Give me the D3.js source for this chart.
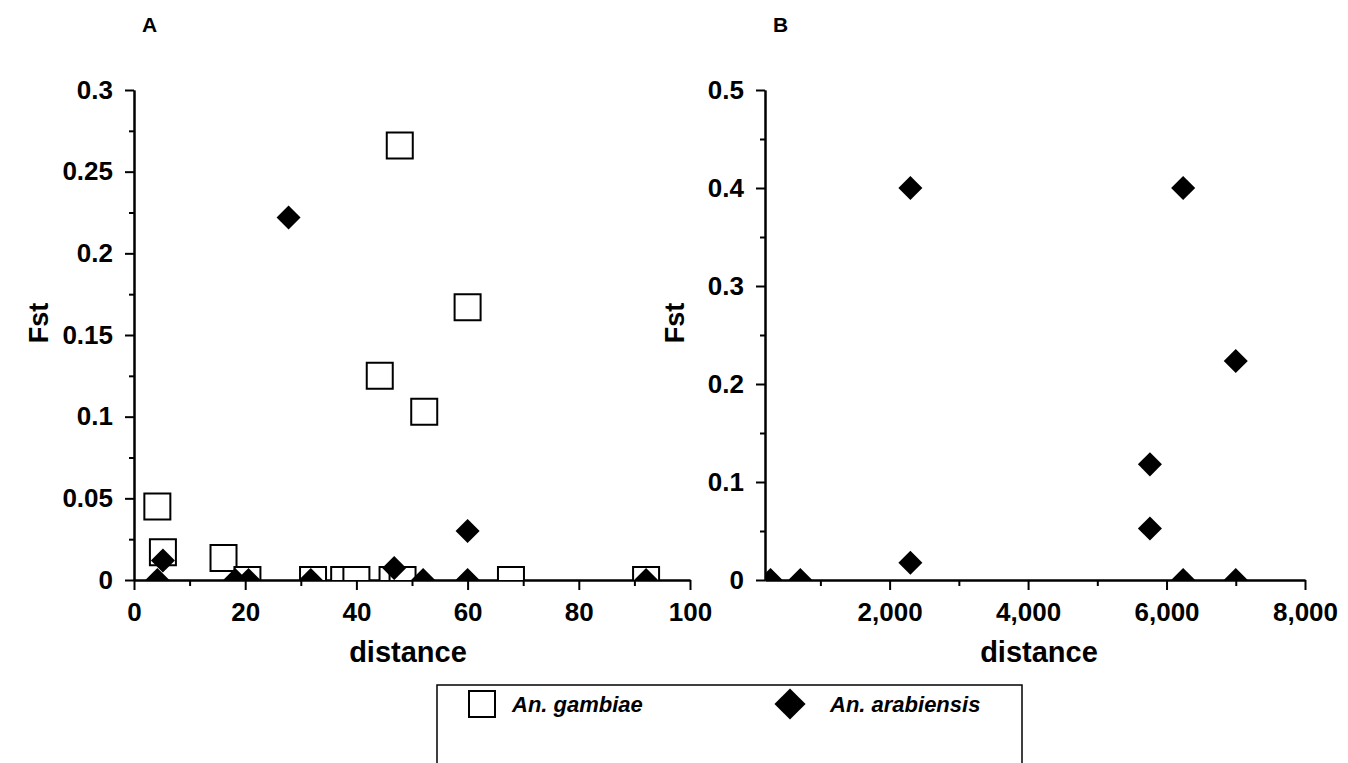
<!DOCTYPE html>
<html>
<head>
<meta charset="utf-8">
<script src="https://cdnjs.cloudflare.com/ajax/libs/d3/7.8.5/d3.min.js"></script>
<style>
	body { margin: 0; background: #fff; }
	svg { display: block; font-family: "Liberation Sans", Arial, sans-serif; }
	.axis path, .axis line { stroke: #000; stroke-width: 2; }
	.axis text { font-size: 26px; font-weight: bold; fill: #000; }
</style>
</head>
<body>
<div id="chart"></div>
<script>

// panel A - An. gambiae (open squares)
var gambiaeDistA = [4.2, 5.2, 16.1, 20.4, 32.2, 37.8, 40, 44.2, 46.5, 48.3, 47.8, 52.2, 60, 67.8, 92.1];
var gambiaeFstA  = [0.045, 0.017, 0.0135, 0, 0, 0, 0, 0.125, 0, 0, 0.266, 0.103, 0.167, 0, 0];

// panel A - An. arabiensis (filled diamonds)
var arabiensisDistA = [4.2, 5.2, 18.2, 20.6, 27.8, 31.8, 46.8, 52, 60, 60, 92.1];
var arabiensisFstA  = [0, 0.012, 0, 0, 0.222, 0, 0.0073, 0, 0.03, 0, 0];

// panel B - An. arabiensis only
var arabiensisDistB = [280, 710, 2300, 2300, 5760, 5760, 6240, 6240, 7000, 7000];
var arabiensisFstB  = [0, 0, 0.4, 0.0175, 0.118, 0.0526, 0.4, 0, 0.2235, 0];

// tick labels
var fstTicksA  = [0, 0.05, 0.1, 0.15, 0.2, 0.25, 0.3];
var distTicksA = [0, 20, 40, 60, 80, 100];
var fstTicksB  = [0, 0.1, 0.2, 0.3, 0.4, 0.5];
var distTicksB = [2000, 4000, 6000, 8000];

var legendLabels = ["An. gambiae", "An. arabiensis"];

function zip(xs, ys) {
	return xs.map((x, i) => ({ dist: x, fst: ys[i] }));
}

var svg = d3.select("#chart").append("svg")
	.attr("width", 1348)
	.attr("height", 763);

/*
 *  ScatterPanel - one of the two Fst vs distance plots
 */
ScatterPanel = function(_id, _opts) {
	this.id = _id;
	this.opts = _opts;
	this.initVis();
}

ScatterPanel.prototype.initVis = function() {
	var vis = this;
	var o = vis.opts;

	vis.x = d3.scaleLinear().domain(o.xDomain).range(o.xRange);
	vis.y = d3.scaleLinear().domain(o.yDomain).range([580, 90]);

	vis.g = svg.append("g").attr("class", "panel-" + vis.id);

	// minor ticks first, then labelled major ticks
	vis.g.append("g")
		.attr("class", "axis")
		.attr("transform", "translate(" + o.xRange[0] + ",0)")
		.call(d3.axisLeft(vis.y).tickValues(o.yMinor).tickSize(5).tickSizeOuter(0).tickFormat(""));
	vis.g.append("g")
		.attr("class", "axis")
		.attr("transform", "translate(" + o.xRange[0] + ",0)")
		.call(d3.axisLeft(vis.y).tickValues(o.yTicks).tickSize(9).tickSizeOuter(0).tickPadding(12).tickFormat(o.yFormat));

	vis.g.append("g")
		.attr("class", "axis")
		.attr("transform", "translate(0,580)")
		.call(d3.axisBottom(vis.x).tickValues(o.xMinor).tickSize(6).tickSizeOuter(0).tickFormat(""));
	vis.g.append("g")
		.attr("class", "axis")
		.attr("transform", "translate(0,580)")
		.call(d3.axisBottom(vis.x).tickValues(o.xTicks).tickSize(10).tickSizeOuter(0).tickPadding(13).tickFormat(o.xFormat));

	// axis titles
	vis.g.append("text")
		.attr("x", (o.xRange[0] + o.xRange[1]) / 2 + o.titleShift)
		.attr("y", 662)
		.attr("text-anchor", "middle")
		.style("font-size", "29px").style("font-weight", "bold")
		.text("distance");
	vis.g.append("text")
		.attr("transform", "translate(" + o.yTitleX + ",323) rotate(-90)")
		.attr("text-anchor", "middle")
		.style("font-size", "27px").style("font-weight", "bold")
		.text("Fst");
	vis.g.append("text")
		.attr("x", o.xRange[0] + 8)
		.attr("y", 32)
		.style("font-size", "21px").style("font-weight", "bold")
		.text(vis.id);

	// markers sitting on the axes get cut off like in the original
	vis.g.append("clipPath").attr("id", "clip-" + vis.id)
		.append("rect")
		.attr("x", o.xRange[0]).attr("y", 60)
		.attr("width", o.xRange[1] - o.xRange[0] + 30)
		.attr("height", 520);

	vis.plot = vis.g.append("g").attr("clip-path", "url(#clip-" + vis.id + ")");
	vis.updateVis();
}

ScatterPanel.prototype.updateVis = function() {
	var vis = this;

	var square = d3.symbol().type(d3.symbolSquare).size(26 * 26);
	var diamond = d3.symbol().type(d3.symbolSquare).size(17 * 17);

	vis.plot.selectAll(".sq").data(vis.opts.squares)
		.enter().append("path")
		.attr("class", "sq")
		.attr("d", square)
		.attr("transform", d => "translate(" + vis.x(d.dist) + "," + vis.y(d.fst) + ")")
		.attr("fill", "#fff")
		.attr("stroke", "#000")
		.attr("stroke-width", 2);

	vis.plot.selectAll(".dm").data(vis.opts.diamonds)
		.enter().append("path")
		.attr("class", "dm")
		.attr("d", diamond)
		.attr("transform", d => "translate(" + vis.x(d.dist) + "," + vis.y(d.fst) + ") rotate(45)")
		.attr("fill", "#000");
}

var panelA = new ScatterPanel("A", {
	xDomain: [0, 100], xRange: [134, 690],
	yDomain: [0, 0.3],
	xTicks: distTicksA, xMinor: [10, 30, 50, 70, 90],
	yTicks: fstTicksA, yMinor: [0.025, 0.075, 0.125, 0.175, 0.225, 0.275],
	xFormat: d => d, yFormat: d => d,
	yTitleX: 48, titleShift: -4,
	squares: zip(gambiaeDistA, gambiaeFstA),
	diamonds: zip(arabiensisDistA, arabiensisFstA)
});

var panelB = new ScatterPanel("B", {
	xDomain: [200, 8000], xRange: [765, 1305],
	yDomain: [0, 0.5],
	xTicks: distTicksB, xMinor: [1000, 3000, 5000, 7000],
	yTicks: fstTicksB, yMinor: [0.05, 0.15, 0.25, 0.35, 0.45],
	xFormat: d3.format(","), yFormat: d => d,
	yTitleX: 684, titleShift: 4,
	squares: [],
	diamonds: zip(arabiensisDistB, arabiensisFstB)
});

// legend box (runs off the bottom edge, as in the scan)
var legend = svg.append("g").attr("class", "legend");
legend.append("rect")
	.attr("x", 437).attr("y", 685)
	.attr("width", 585).attr("height", 100)
	.attr("fill", "none").attr("stroke", "#000").attr("stroke-width", 1.5);

legend.append("path")
	.attr("d", d3.symbol().type(d3.symbolSquare).size(26 * 26))
	.attr("transform", "translate(482,704)")
	.attr("fill", "#fff").attr("stroke", "#000").attr("stroke-width", 2);
legend.append("path")
	.attr("d", d3.symbol().type(d3.symbolSquare).size(22 * 22))
	.attr("transform", "translate(790,704) rotate(45)")
	.attr("fill", "#000");

legend.selectAll(".lbl").data(legendLabels)
	.enter().append("text")
	.attr("class", "lbl")
	.attr("x", (d, i) => i === 0 ? 512 : 830)
	.attr("y", 712)
	.style("font-size", "22px").style("font-weight", "bold").style("font-style", "italic")
	.text(d => d);

</script>
</body>
</html>
